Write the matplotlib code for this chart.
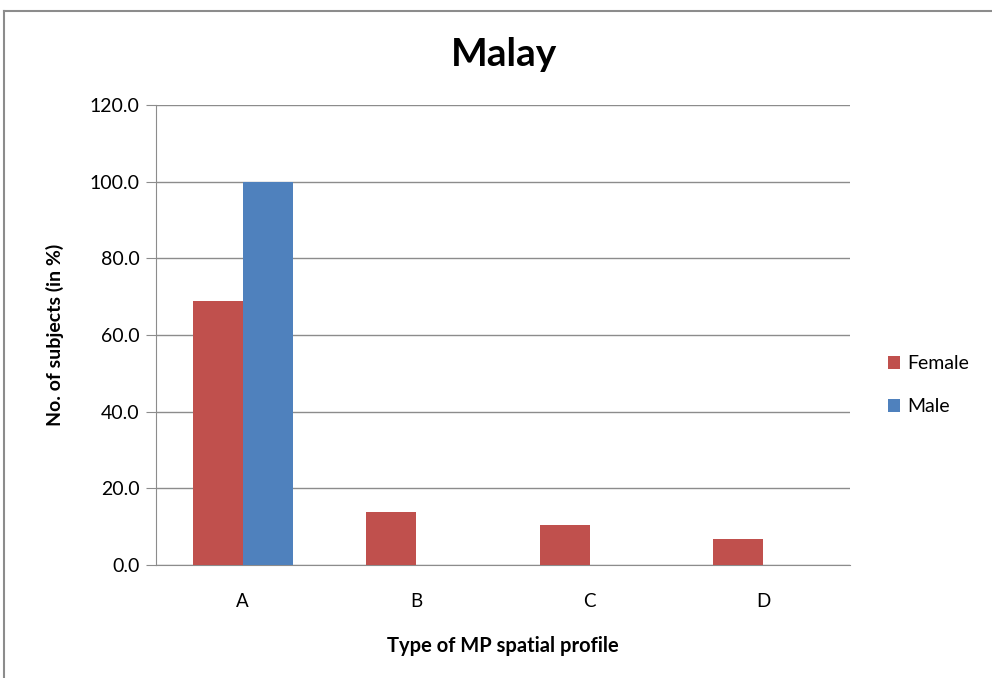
import matplotlib
matplotlib.use("Agg")
import matplotlib.pyplot as plt
import numpy as np
from matplotlib.lines import Line2D

categories = ["A", "B", "C", "D"]
female = [68.8, 13.9, 10.4, 6.8]
male = [100.0, 0.0, 0.0, 0.0]
yticks = [0, 20, 40, 60, 80, 100, 120]

plt.rcParams['font.family'] = ['Lato', 'DejaVu Sans']

fig = plt.figure(figsize=(9.92, 6.78), dpi=100)
W, H = 992, 678
ax = fig.add_axes([156 / W, 1 - 565 / H, (850 - 156) / W, (565 - 105) / H])

x = np.arange(len(categories))
bw = 0.288
c_f = "#C0504D"
c_m = "#4F81BD"
ax.bar(x - bw / 2, female, bw, color=c_f, label="Female", zorder=3)
ax.bar(x + bw / 2, male, bw, color=c_m, label="Male", zorder=3)

ax.set_xlim(-0.5, len(categories) - 0.5)
ax.set_ylim(0, 120)
ax.set_yticks(yticks)
ax.set_yticklabels([f"{v:.1f}" for v in yticks], fontsize=14)
ax.set_xticks(x)
ax.set_xticklabels(categories, fontsize=13.5)
ax.yaxis.grid(True, color="#8c8c8c", linewidth=1.0, zorder=0)
ax.set_axisbelow(True)
for s in ["top", "right"]:
    ax.spines[s].set_visible(False)
ax.spines["left"].set_color("#8c8c8c")
ax.spines["bottom"].set_color("#8c8c8c")
ax.tick_params(axis="y", length=7, color="#8c8c8c", pad=5)
ax.tick_params(axis="x", length=0, pad=20)

ax.set_ylabel("No. of subjects (in %)", fontsize=14, fontweight="bold", labelpad=18)
ax.set_xlabel("Type of MP spatial profile", fontsize=14.5, fontweight="bold", labelpad=19)
fig.text(504 / W, 1 - 55 / H, "Malay", fontsize=28, fontweight="bold", ha="center", va="center")

ax.legend(loc="center left", bbox_to_anchor=(870 / W, 1 - 385 / H), bbox_transform=fig.transFigure,
          frameon=False, fontsize=14, handlelength=0.65, handleheight=0.65, handletextpad=0.35,
          labelspacing=1.35)

# chart area border (left and top visible)
fig.add_artist(Line2D([4 / W, 4 / W], [0, 1 - 11 / H], transform=fig.transFigure, color="#8c8c8c", lw=1.5))
fig.add_artist(Line2D([4 / W, 1], [1 - 11 / H, 1 - 11 / H], transform=fig.transFigure, color="#8c8c8c", lw=1.5))

fig.savefig("out.png", dpi=100)
